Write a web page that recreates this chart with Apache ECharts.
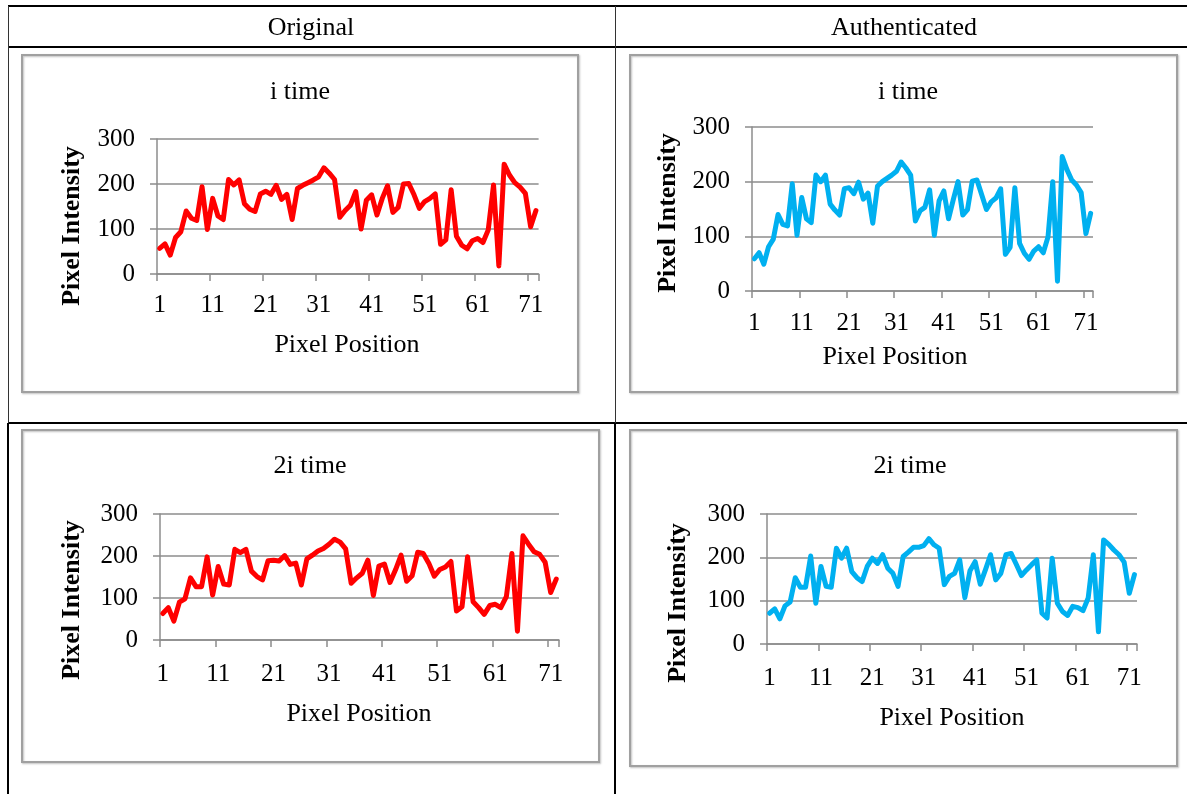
<!DOCTYPE html>
<html><head><meta charset="utf-8">
<script src="https://cdn.jsdelivr.net/npm/echarts@6/dist/echarts.min.js"></script>
<style>html,body{margin:0;padding:0;background:#fff}#c{width:1187px;height:794px}</style>
</head><body><div id="c"></div>
<script>
const categories = Array.from({length: 72}, (_, i) => String(i + 1));
const originalI = [57,67,42,81,94,140,124,119,194,99,168,129,121,210,198,209,156,144,139,178,184,177,197,166,177,121,190,197,203,209,216,236,224,210,126,141,153,183,100,164,176,131,168,196,137,148,200,201,176,146,161,168,178,66,76,187,84,64,56,74,79,70,98,198,18,244,220,203,193,179,105,141];
const authenticatedI = [59,70,49,81,95,140,122,119,196,102,171,132,125,212,200,212,159,148,139,187,189,178,199,168,179,124,192,200,206,212,219,236,225,212,128,147,153,185,102,165,183,132,167,200,139,149,201,203,176,149,163,170,187,67,80,189,87,69,58,73,81,70,99,200,18,246,222,203,194,180,105,142];
const original2I = [63,77,45,90,98,148,127,127,198,107,175,133,131,216,208,216,164,151,143,189,190,188,201,180,183,131,193,202,212,218,228,240,233,217,135,148,159,190,106,176,181,137,167,202,140,153,209,206,183,152,168,174,187,69,79,198,91,77,61,82,85,77,103,206,21,248,228,210,204,185,113,145];
const authenticated2I = [71,81,58,88,97,153,131,131,203,94,179,133,131,221,198,221,167,153,144,179,198,186,206,175,163,133,202,212,223,223,227,243,229,221,137,156,163,194,107,169,190,138,171,206,148,163,206,209,184,158,171,183,194,71,60,198,94,75,66,87,84,77,106,206,28,240,230,217,206,189,117,160];
const panelTitles = ['i time', 'i time', '2i time', '2i time'];
const headers = ['Original', 'Authenticated'];
const xAxisTitle = 'Pixel Position';
const yAxisTitle = 'Pixel Intensity';

const FONT = 'Liberation Serif';
const GRID_COLOR = '#8c8c8c';

const panels = [
  {data: originalI, color: '#FF0000', grid: {left: 157, top: 139, width: 381.6, height: 135},
   frame: [22, 55, 556, 337], title: [300, 92], xt: [347, 345], yt: [72, 226], xm: 19},
  {data: authenticatedI, color: '#00B0F0', grid: {left: 752, top: 127, width: 341, height: 164},
   frame: [630, 55, 547, 337], title: [908, 92], xt: [895, 357], yt: [668, 213], xm: 20},
  {data: original2I, color: '#FF0000', grid: {left: 160, top: 514, width: 399, height: 126},
   frame: [22, 430, 577, 332], title: [310, 466], xt: [359, 714], yt: [72, 600], xm: 22},
  {data: authenticated2I, color: '#00B0F0', grid: {left: 767, top: 514, width: 370, height: 130},
   frame: [630, 430, 547, 336], title: [910, 466], xt: [952, 718], yt: [678, 603], xm: 22}
];

const graphic = [];
const line = (x1, y1, x2, y2, w, c) => graphic.push({type: 'line', shape: {x1, y1, x2, y2}, style: {stroke: c, lineWidth: w}, silent: true});
line(8, 6, 1187, 6, 2, '#000');
line(8, 47, 1187, 47, 2, '#000');
line(8, 423, 1187, 423, 2, '#000');
line(8.5, 6, 8.5, 423, 1, '#333');
line(8, 423, 8, 794, 2, '#000');
line(615.5, 6, 615.5, 423, 1, '#333');
line(615, 423, 615, 794, 2, '#000');
const text = (x, y, t, size, bold, rot) => graphic.push({type: 'text', x, y, rotation: rot || 0, silent: true,
  style: {text: t, fontFamily: FONT, fontSize: size, fontWeight: bold ? 'bold' : 'normal', fill: '#000', align: 'center', verticalAlign: 'middle'}});
text(311, 28, headers[0], 26);
text(904, 28, headers[1], 26);

panels.forEach((p, i) => {
  const [fx, fy, fw, fh] = p.frame;
  graphic.push({type: 'rect', shape: {x: fx, y: fy, width: fw, height: fh}, silent: true,
    style: {fill: 'none', stroke: '#a0a0a0', lineWidth: 2, shadowColor: 'rgba(0,0,0,0.25)', shadowBlur: 2, shadowOffsetX: 1, shadowOffsetY: 1}});
  text(p.title[0], p.title[1], panelTitles[i], 26);
  text(p.xt[0], p.xt[1], xAxisTitle, 26);
  text(p.yt[0], p.yt[1], yAxisTitle, 26, true, Math.PI / 2);
});

const option = {
  animation: false,
  backgroundColor: '#fff',
  grid: panels.map(p => Object.assign({containLabel: false}, p.grid)),
  xAxis: panels.map((p, i) => ({
    type: 'category', gridIndex: i, data: categories, boundaryGap: true,
    axisLine: {show: true, lineStyle: {color: GRID_COLOR, width: 1.5}},
    axisTick: {show: true, interval: 9, length: 7, lineStyle: {color: GRID_COLOR, width: 1.5}},
    axisLabel: {interval: 9, margin: p.xm, color: '#000', fontFamily: FONT, fontSize: 25},
    splitLine: {show: false}
  })),
  yAxis: panels.map((p, i) => ({
    type: 'value', gridIndex: i, min: 0, max: 300, interval: 100,
    axisLine: {show: true, lineStyle: {color: GRID_COLOR, width: 1.5}},
    axisTick: {show: true, length: 7, lineStyle: {color: GRID_COLOR, width: 1.5}},
    axisLabel: {margin: 22, color: '#000', fontFamily: FONT, fontSize: 25},
    splitLine: {show: true, lineStyle: {color: GRID_COLOR, width: 1.5}}
  })),
  series: panels.map((p, i) => ({
    type: 'line', xAxisIndex: i, yAxisIndex: i, data: p.data, showSymbol: false, symbol: 'none',
    lineStyle: {color: p.color, width: 5, join: 'round', cap: 'round'}, itemStyle: {color: p.color}
  })),
  graphic: graphic
};
const chart = echarts.init(document.getElementById('c'), null, {renderer: 'canvas'});
chart.setOption(option);
</script></body></html>
